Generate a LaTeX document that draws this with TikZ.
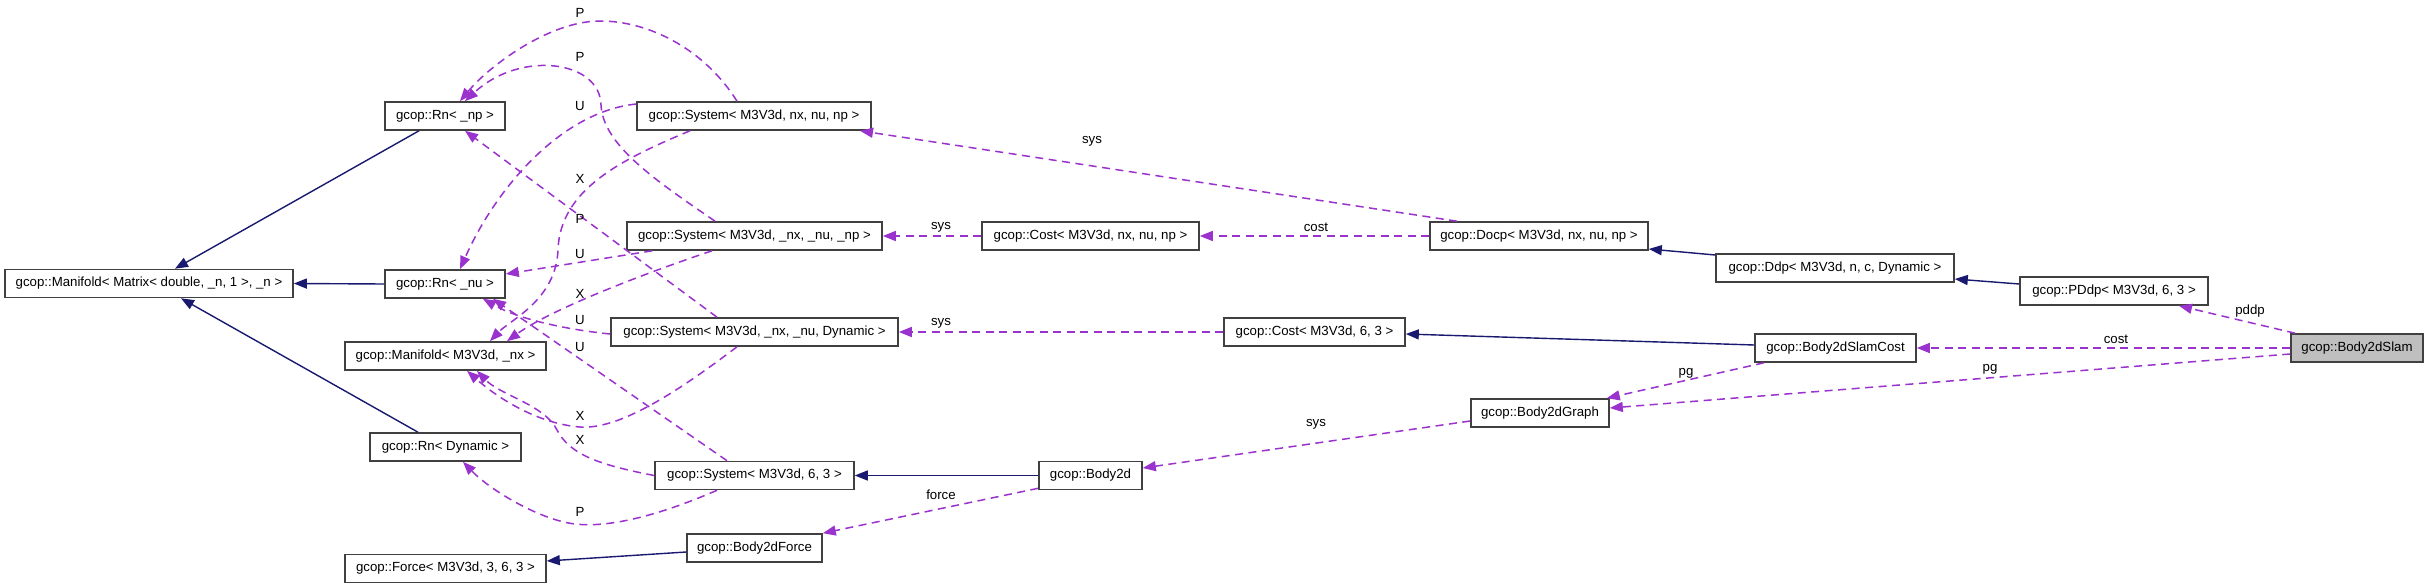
\documentclass[tikz,border=0pt]{standalone}
\usepackage{fontspec}
\setmainfont{Liberation Sans}
\usetikzlibrary{arrows.meta}
\definecolor{depc}{HTML}{9A32CD}
\definecolor{inhc}{HTML}{191970}
\definecolor{boxc}{HTML}{404040}
\definecolor{hilite}{HTML}{BFBFBF}
\newcommand{\dnodefont}{\fontsize{13.25}{15}\selectfont}
\begin{document}
\begin{tikzpicture}[x=1pt,y=-1pt,
  box/.style={draw=boxc, line width=1.6pt, minimum height=28pt, inner sep=0pt, fill=white, font=\dnodefont},
  lbl/.style={inner sep=0pt, font=\dnodefont},
  dep/.style={draw=depc, line width=1.5pt, dash pattern=on 8pt off 5.5pt, -{Triangle[length=13pt,width=10pt]}},
  inh/.style={draw=inhc, line width=1.4pt, -{Triangle[length=13pt,width=10pt]}}]
\useasboundingbox[fill=white] (0,0) rectangle (2429,588);

% nodes
\node[box,minimum width=288pt] (mfm) at (149,283.5) {gcop::Manifold< Matrix< double, \_n, 1 >, \_n >};
\node[box,minimum width=120pt] (rnp) at (445,116) {gcop::Rn< \_np >};
\node[box,minimum width=120pt] (rnu) at (445,284) {gcop::Rn< \_nu >};
\node[box,minimum width=201pt] (mfx) at (445.5,356) {gcop::Manifold< M3V3d, \_nx >};
\node[box,minimum width=151pt] (rnd) at (445.5,447) {gcop::Rn< Dynamic >};
\node[box,minimum width=201pt] (force) at (445.5,568.5) {gcop::Force< M3V3d, 3, 6, 3 >};
\node[box,minimum width=234pt] (s1) at (754,116) {gcop::System< M3V3d, nx, nu, np >};
\node[box,minimum width=255pt] (s2) at (754.5,236) {gcop::System< M3V3d, \_nx, \_nu, \_np >};
\node[box,minimum width=287pt] (s3) at (754.5,332) {gcop::System< M3V3d, \_nx, \_nu, Dynamic >};
\node[box,minimum width=199pt] (s4) at (754.5,475.5) {gcop::System< M3V3d, 6, 3 >};
\node[box,minimum width=135pt] (b2f) at (754.5,548) {gcop::Body2dForce};
\node[box,minimum width=217pt] (cnp) at (1090.5,236) {gcop::Cost< M3V3d, nx, nu, np >};
\node[box,minimum width=181pt] (c63) at (1314.5,332) {gcop::Cost< M3V3d, 6, 3 >};
\node[box,minimum width=103pt] (b2d) at (1090.5,475.5) {gcop::Body2d};
\node[box,minimum width=218pt] (docp) at (1539,236) {gcop::Docp< M3V3d, nx, nu, np >};
\node[box,minimum width=138pt] (b2g) at (1540,413) {gcop::Body2dGraph};
\node[box,minimum width=238pt] (ddp) at (1835,268) {gcop::Ddp< M3V3d, n, c, Dynamic >};
\node[box,minimum width=188pt] (pddp) at (2114,291) {gcop::PDdp< M3V3d, 6, 3 >};
\node[box,minimum width=161pt] (b2sc) at (1835.5,348) {gcop::Body2dSlamCost};
\node[box,minimum width=132pt,fill=hilite] (b2s) at (2357,348) {gcop::Body2dSlam};

% inheritance
\draw[inh] ([xshift=-26pt]rnp.south) -- ([xshift=26pt]mfm.north);
\draw[inh] (rnu.west) -- (mfm.east);
\draw[inh] ([xshift=-27.5pt]rnd.north) -- ([xshift=32pt]mfm.south);
\draw[inh] ([yshift=-4pt]b2f.west) -- ([yshift=7.5pt]force.east);
\draw[inh] (b2d.west) -- (s4.east);
\draw[inh] ([yshift=3pt]b2sc.west) -- ([yshift=-2pt]c63.east);
\draw[inh] ([yshift=13pt]ddp.west) -- ([yshift=-13pt]docp.east);
\draw[inh] ([yshift=7pt]pddp.west) -- ([yshift=-11pt]ddp.east);

% usage
\draw[dep] ([xshift=-82pt]docp.north) -- ([xshift=106pt]s1.south);
\draw[dep] (docp.west) -- (cnp.east);
\draw[dep] (cnp.west) -- (s2.east);
\draw[dep] (c63.west) -- (s3.east);
\draw[dep] ([xshift=-62pt]b2s.north) -- ([xshift=65pt]pddp.south);
\draw[dep] (b2s.west) -- (b2sc.east);
\draw[dep] ([yshift=-6pt]b2s.west) -- ([yshift=5pt]b2g.east);
\draw[dep] ([xshift=-71.5pt]b2sc.south) -- ([xshift=-3pt]b2g.north east);
\draw[dep] ([yshift=-8pt]b2g.west) -- ([yshift=7.5pt]b2d.east);
\draw[dep] ([yshift=2pt]b2d.south west) -- (b2f.north east);

% left tangle
\draw[dep] ([xshift=-17pt]s1.north) .. controls (705,50) and (650,21) .. (600,21) .. controls (550,21) and (490,65) .. ([xshift=15pt]rnp.north);
\draw[dep] ([xshift=-39.5pt]s2.north) .. controls (655,180) and (603,145) .. (601,105) .. controls (600,60) and (520,50) .. ([xshift=20pt]rnp.north);
\draw[dep] ([yshift=12pt]s1.west) .. controls (560,112) and (495,190) .. ([xshift=15pt]rnu.north);
\draw[dep] ([xshift=-64pt]s1.south) .. controls (620,160) and (560,190) .. (558,250) .. controls (556,300) and (510,320) .. ([xshift=44.5pt]mfx.north);
\draw[dep] ([xshift=26pt]s2.south west) -- ([yshift=10pt]rnu.east);
\draw[dep] ([xshift=-42.5pt]s2.south) .. controls (640,275) and (550,310) .. ([xshift=61.5pt]mfx.north);
\draw[dep] ([xshift=-37.5pt]s3.north) -- ([xshift=20pt]rnp.south);
\draw[dep] ([yshift=-2pt]s3.west) .. controls (570,330) and (520,320) .. ([xshift=38pt]rnu.south);
\draw[dep] ([xshift=-17.5pt]s3.south) .. controls (680,390) and (620,430) .. (580,427) .. controls (540,424) and (500,400) .. ([xshift=21.5pt]mfx.south);
\draw[dep] ([xshift=-27.5pt]s4.north) -- ([xshift=48pt]rnu.south);
\draw[dep] (s4.west) .. controls (600,465) and (570,455) .. (557,430) .. controls (545,405) and (500,395) .. ([xshift=31.5pt]mfx.south);
\draw[dep] ([xshift=-37.5pt]s4.south) .. controls (660,515) and (610,528) .. (575,524) .. controls (540,520) and (490,490) .. ([xshift=17.5pt]rnd.south);

% labels
\node[lbl] (lsys1) at (1092,141) {sys};
\node[lbl] (lcost1) at (1316,227) {cost};
\node[lbl] (lsys2) at (941,227) {sys};
\node[lbl] (lsys3) at (941,323) {sys};
\node[lbl] (lpddp) at (2250,311) {pddp};
\node[lbl] (lcost2) at (2116,339) {cost};
\node[lbl] (lpg1) at (1990,369) {pg};
\node[lbl] (lpg2) at (1686,373) {pg};
\node[lbl] (lsys4) at (1316,424) {sys};
\node[lbl] (lforce) at (941,495) {force};
\node[lbl] (lP1) at (580,13) {P};
\node[lbl] (lP2) at (580,57) {P};
\node[lbl] (lU1) at (580,106) {U};
\node[lbl] (lX1) at (580,179) {X};
\node[lbl] (lP3) at (580,219) {P};
\node[lbl] (lU2) at (580,254) {U};
\node[lbl] (lX2) at (580,294) {X};
\node[lbl] (lU3) at (580,320) {U};
\node[lbl] (lU4) at (580,347) {U};
\node[lbl] (lX3) at (580,416) {X};
\node[lbl] (lX4) at (580,440) {X};
\node[lbl] (lP4) at (580,512) {P};
\end{tikzpicture}
\end{document}
